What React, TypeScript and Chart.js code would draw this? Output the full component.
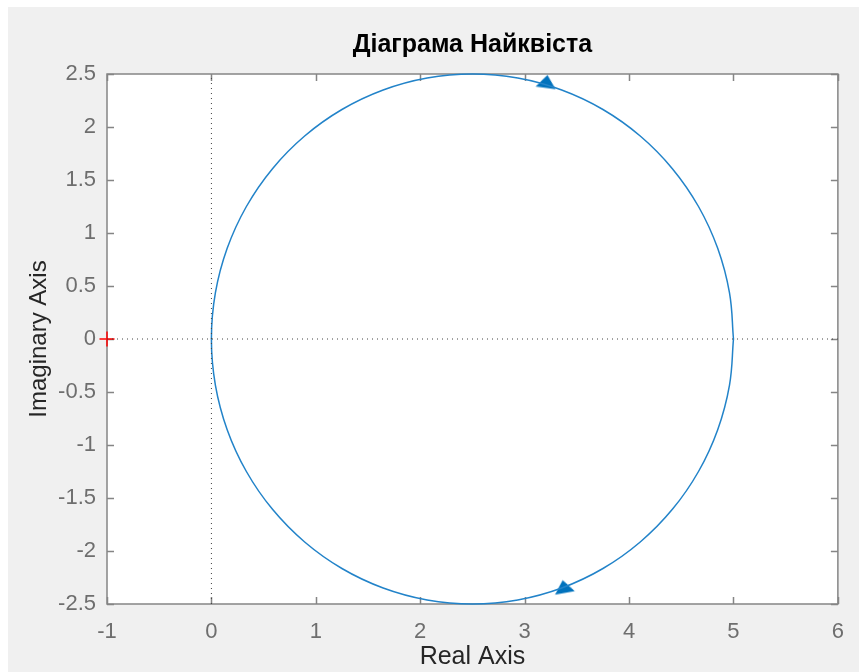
import React, { useEffect, useRef } from "react";
import { Chart, registerables } from "chart.js";

Chart.register(...registerables);

// Nyquist contour of the open-loop response (real / imaginary parts)
const realPart = [
  5, 4.962, 4.849, 4.665, 4.415, 4.107, 3.75, 3.355, 2.934, 2.5, 2.066, 1.645, 1.25,
  0.893, 0.585, 0.335, 0.151, 0.038, 0, 0.038, 0.151, 0.335, 0.585, 0.893, 1.25,
  1.645, 2.066, 2.5, 2.934, 3.355, 3.75, 4.107, 4.415, 4.665, 4.849, 4.962, 5,
];
const imagPart = [
  0, -0.434, -0.855, -1.25, -1.607, -1.915, -2.165, -2.349, -2.462, -2.5, -2.462,
  -2.349, -2.165, -1.915, -1.607, -1.25, -0.855, -0.434, 0, 0.434, 0.855, 1.25,
  1.607, 1.915, 2.165, 2.349, 2.462, 2.5, 2.462, 2.349, 2.165, 1.915, 1.607, 1.25,
  0.855, 0.434, 0,
];

// direction arrows on the contour
const arrowReal = [3.21, 3.375];
const arrowImag = [2.43, -2.335];
const arrowRotation = [8, -10];

// critical point -1 + j0
const criticalReal = [-1];
const criticalImag = [0];

const xTicks = [-1, 0, 1, 2, 3, 4, 5, 6];
const yTicks = [-2.5, -2, -1.5, -1, -0.5, 0, 0.5, 1, 1.5, 2, 2.5];

const titleText = "Діаграма Найквіста";
const xTitle = "Real Axis";
const yTitle = "Imaginary Axis";

const FONT = "'Liberation Sans', Arial, Helvetica, sans-serif";
const CURVE_BLUE = "#0072BD";

// flat arrowhead glyph used as the point style of the arrow markers
function makeArrowHead(): HTMLCanvasElement {
  const c = document.createElement("canvas");
  c.width = 21;
  c.height = 14;
  const g = c.getContext("2d")!;
  g.fillStyle = CURVE_BLUE;
  g.beginPath();
  g.moveTo(10.5, 0.5);
  g.lineTo(20.5, 13.5);
  g.lineTo(0.5, 13.5);
  g.closePath();
  g.fill();
  return c;
}

const backgroundPlugin = {
  id: "figureBackground",
  beforeDraw(chart: any) {
    const { ctx, width, height, chartArea } = chart;
    ctx.save();
    ctx.fillStyle = "#ffffff";
    ctx.fillRect(0, 0, width, height);
    ctx.fillStyle = "#f0f0f0";
    ctx.fillRect(8, 7, width - 8, height - 7);
    ctx.fillStyle = "#ffffff";
    ctx.fillRect(
      chartArea.left,
      chartArea.top,
      chartArea.right - chartArea.left,
      chartArea.bottom - chartArea.top
    );
    ctx.restore();
  },
};

// axes box with inward tick marks on all four sides
const framePlugin = {
  id: "axesFrame",
  beforeDatasetsDraw(chart: any) {
    const { ctx, chartArea, scales } = chart;
    const { left, right, top, bottom } = chartArea;
    const len = 7;
    ctx.save();
    ctx.strokeStyle = "#858585";
    ctx.lineWidth = 1.5;
    ctx.beginPath();
    for (const v of xTicks) {
      const px = Math.round(scales.x.getPixelForValue(v)) + 0.5;
      ctx.moveTo(px, bottom);
      ctx.lineTo(px, bottom - len);
      ctx.moveTo(px, top);
      ctx.lineTo(px, top + len);
    }
    for (const v of yTicks) {
      const py = Math.round(scales.y.getPixelForValue(v)) + 0.5;
      ctx.moveTo(left, py);
      ctx.lineTo(left + len, py);
      ctx.moveTo(right, py);
      ctx.lineTo(right - len, py);
    }
    ctx.stroke();
    ctx.strokeRect(left, top, right - left, bottom - top);
    ctx.restore();
  },
};

export default function App() {
  const canvasRef = useRef<HTMLCanvasElement | null>(null);

  useEffect(() => {
    const canvas = canvasRef.current;
    if (!canvas) return;

    const contour = realPart.map((x, i) => ({ x, y: imagPart[i] }));
    const arrows = arrowReal.map((x, i) => ({ x, y: arrowImag[i] }));
    const critical = criticalReal.map((x, i) => ({ x, y: criticalImag[i] }));
    const xMin = xTicks[0];
    const xMax = xTicks[xTicks.length - 1];
    const yMin = yTicks[0];
    const yMax = yTicks[yTicks.length - 1];
    const arrowHead = makeArrowHead();

    const chart = new Chart(canvas, {
      type: "scatter",
      data: {
        datasets: [
          {
            label: "re-axis",
            data: [
              { x: xMin, y: 0 },
              { x: xMax, y: 0 },
            ],
            showLine: true,
            pointRadius: 0,
            borderColor: "#404040",
            borderWidth: 1,
            borderDash: [1, 4],
          },
          {
            label: "im-axis",
            data: [
              { x: 0, y: yMin },
              { x: 0, y: yMax },
            ],
            showLine: true,
            pointRadius: 0,
            borderColor: "#404040",
            borderWidth: 1,
            borderDash: [1, 4],
          },
          {
            label: "contour",
            data: contour,
            showLine: true,
            pointRadius: 0,
            borderColor: "#2283c9",
            borderWidth: 1.5,
            tension: 0.4,
            clip: false,
          },
          {
            label: "arrows",
            data: arrows,
            showLine: false,
            pointStyle: arrowHead,
            pointRadius: 10,
            rotation: arrowRotation,
            clip: false,
          },
          {
            label: "critical",
            data: critical,
            showLine: false,
            pointStyle: "cross",
            pointRadius: 7.5,
            borderColor: "#ff0000",
            borderWidth: 1.5,
            clip: false,
          },
        ],
      } as any,
      options: {
        animation: false,
        responsive: false,
        devicePixelRatio: 1,
        events: [],
        layout: { padding: { left: 8, right: 21, top: 0, bottom: 0 } },
        plugins: {
          legend: { display: false },
          tooltip: { enabled: false },
          title: {
            display: true,
            text: titleText,
            fullSize: false,
            color: "#000000",
            font: { family: FONT, size: 25, weight: "bold", lineHeight: 1.2 },
            padding: { top: 30, bottom: 14 },
          },
        },
        scales: {
          x: {
            type: "linear",
            min: xMin,
            max: xMax,
            grid: { display: false, drawTicks: false },
            border: { display: false },
            afterBuildTicks: (s: any) => {
              s.ticks = xTicks.map((v) => ({ value: v }));
            },
            afterFit: (s: any) => {
              s.height = 68;
            },
            ticks: {
              color: "#6e6e6e",
              font: { family: FONT, size: 22 },
              padding: 15,
              maxRotation: 0,
              callback: (v: any) => String(v),
            },
            title: {
              display: true,
              text: xTitle,
              color: "#262626",
              font: { family: FONT, size: 25, lineHeight: 1.2 },
              padding: { top: 0, bottom: 0 },
            },
          },
          y: {
            type: "linear",
            min: yMin,
            max: yMax,
            grid: { display: false, drawTicks: false },
            border: { display: false },
            afterBuildTicks: (s: any) => {
              s.ticks = yTicks.map((v) => ({ value: v }));
            },
            afterFit: (s: any) => {
              s.width = 99;
            },
            ticks: {
              color: "#6e6e6e",
              font: { family: FONT, size: 22 },
              padding: 11,
              callback: (v: any) => String(v),
            },
            title: {
              display: true,
              text: yTitle,
              color: "#262626",
              font: { family: FONT, size: 24, lineHeight: 1.2 },
              padding: { top: 17, bottom: 0 },
            },
          },
        },
      } as any,
      plugins: [backgroundPlugin, framePlugin],
    });

    return () => chart.destroy();
  }, []);

  return (
    <div style={{ position: "absolute", left: 0, top: 0, width: 859, height: 672 }}>
      <canvas ref={canvasRef} width={859} height={672} style={{ display: "block" }} />
    </div>
  );
}
